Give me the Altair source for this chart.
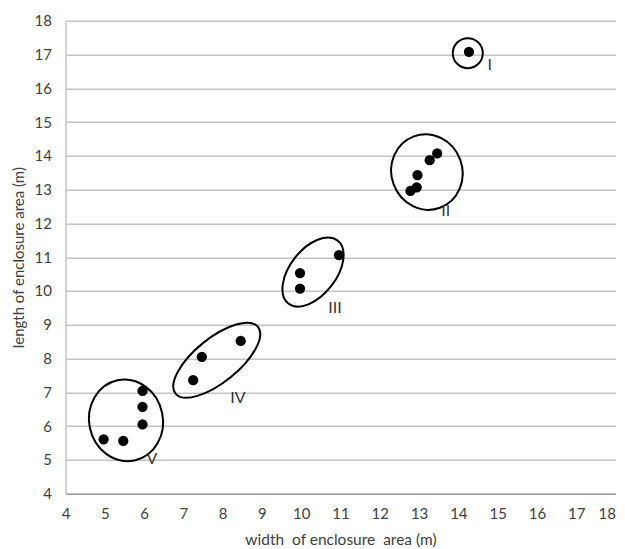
import altair as alt
import pandas as pd

# Data points
widths = [14.27, 12.78, 12.94, 12.96, 13.27, 13.46,
          9.97, 9.97, 10.96,
          7.25, 7.47, 8.46,
          4.97, 5.47, 5.96, 5.96, 5.96]
lengths = [17.08, 12.96, 13.07, 13.43, 13.87, 14.07,
           10.07, 10.53, 11.06,
           7.36, 8.05, 8.52,
           5.61, 5.56, 6.05, 6.57, 7.04]

# Cluster labels
group_names = ["I", "II", "III", "IV", "V"]
label_x = [14.80, 13.68, 10.86, 8.39, 6.20]
label_y = [16.70, 12.36, 9.50, 6.84, 5.02]

# Cluster outline centres (data units)
ring_x = [14.24, 13.20, 10.30, 7.85, 5.54]
ring_y = [17.04, 13.52, 10.56, 7.95, 6.17]

# Outline geometry (style): semi-major in px, minor/major ratio, rotation (deg, clockwise)
ring_semi = [15, 38, 40, 53, 41]
ring_ratio = [1.0, 0.934, 0.575, 0.415, 0.90]
ring_angle = [0, 70, 308, 321, 78]

x_ticks = list(range(4, 19))
y_ticks = list(range(4, 19))


def ellipse_path(r):
    k = 0.5523
    return (f"M 1 0 C 1 {k*r:.4f} {k} {r:.4f} 0 {r:.4f} "
            f"C {-k} {r:.4f} -1 {k*r:.4f} -1 0 "
            f"C -1 {-k*r:.4f} {-k} {-r:.4f} 0 {-r:.4f} "
            f"C {k} {-r:.4f} 1 {-k*r:.4f} 1 0 Z")


pts = pd.DataFrame({"width": widths, "length": lengths})
labels = pd.DataFrame({"width": label_x, "length": label_y, "name": group_names})
rings = pd.DataFrame({
    "width": ring_x, "length": ring_y, "name": group_names,
    "sz": [(2 * a) ** 2 for a in ring_semi],
    "ang": ring_angle,
})
paths = [ellipse_path(r) for r in ring_ratio]

FONT = "Lato"
GRID = "#c4c4c4"

xenc = alt.X("width:Q",
             scale=alt.Scale(domain=[4, 18], nice=False, zero=False),
             axis=alt.Axis(values=x_ticks, title="width\u00a0 of enclosure\u00a0 area (m)",
                           grid=False, ticks=False, labelPadding=13,
                           labelOverlap=False, labelFlush=False,
                           labelAlign={"expr": "datum.value >= 18 ? 'right' : 'center'"},
                           domainColor="#9e9e9e", domainWidth=1.5,
                           titleFontSize=15.5, titlePadding=11))
yenc = alt.Y("length:Q",
             scale=alt.Scale(domain=[4, 18], nice=False, zero=False),
             axis=alt.Axis(values=y_ticks, title="length of enclosure  area (m)",
                           grid=True, gridColor=GRID, gridWidth=1.5,
                           ticks=False, labelPadding=14,
                           labelOverlap=False, labelFlush=False,
                           domainColor=GRID, domainWidth=1.5,
                           titlePadding=8))

dots = alt.Chart(pts).mark_circle(size=105, color="black", opacity=1).encode(
    x=xenc, y=yenc)

outlines = alt.Chart(rings).mark_point(
    filled=False, stroke="black", strokeWidth=2, opacity=1
).encode(
    x=xenc, y=yenc,
    shape=alt.Shape("name:N", scale=alt.Scale(domain=group_names, range=paths), legend=None),
    size=alt.Size("sz:Q", scale=None),
    angle=alt.Angle("ang:Q", scale=None),
)

text = alt.Chart(labels).mark_text(fontSize=16, color="#333333", font=FONT).encode(
    x=xenc, y=yenc, text="name:N")

chart = alt.layer(dots, outlines, text).properties(
    width=550, height=473,
    autosize=alt.AutoSizeParams(type="none"),
    padding={"left": 57.5, "top": 12.7, "right": 1.5, "bottom": 54},
).configure_view(stroke=None).configure_axis(
    labelFont=FONT, titleFont=FONT, labelFontSize=15, titleFontSize=15,
    labelColor="#404040", titleColor="#404040", titleFontWeight="normal",
)

chart.save("out.html", embed_options={"renderer": "svg", "actions": False})
